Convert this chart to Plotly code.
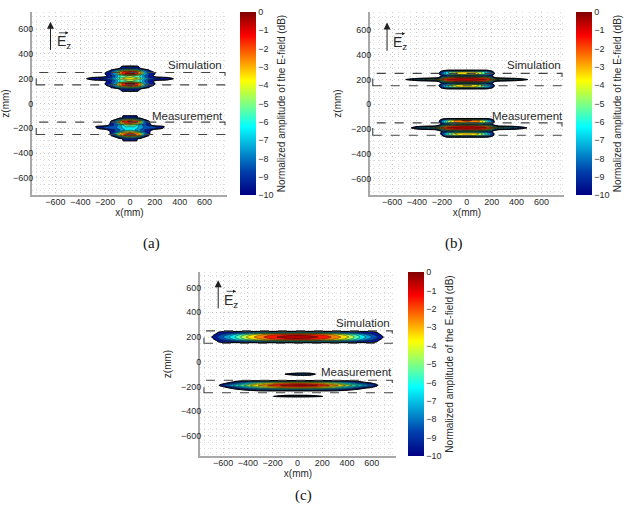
import plotly.graph_objects as go

# shared values
OFF = -20
TICK_VALS = [-600, -400, -200, 0, 200, 400, 600]
Z_TICK_VALS = [-600, -400, -200, 0, 200, 400, 600]
CBAR_TICKS = [0, -1, -2, -3, -4, -5, -6, -7, -8, -9, -10]
SIM_BOX = [150, 250]
MEAS_BOX = [-250, -150]

JET = [[0, "rgb(0,0,131)"], [0.125, "rgb(0,60,170)"], [0.375, "rgb(5,255,255)"],
       [0.625, "rgb(255,255,0)"], [0.875, "rgb(250,0,0)"], [1, "rgb(128,0,0)"]]
# same scale, but everything at or below -10 dB stays see-through
JET_CLEAR = [[0, "rgba(0,0,0,0)"], [0.0001, "rgb(0,0,131)"]] + JET[1:]

# panel (a)
XA = [-380, -300, -200, -160, -120, -80, -40, 0, 40, 80, 120, 160, 200, 300, 380]
ZA_SIM = [85, 100, 115, 130, 145, 160, 175, 187, 200, 213, 225, 240, 255, 270, 285, 300, 315]
A_SIM = [
    [OFF] * 15,
    [-20, -20, -20, -20, -16, -10.5, -9, -8.5, -9, -10.5, -16, -20, -20, -20, -20],
    [-20, -20, -20, -16, -12, -10, -9.5, -9.3, -9.5, -10, -12, -16, -20, -20, -20],
    [-20, -20, -13, -10.2, -8.5, -6.5, -5, -4.5, -5, -6.5, -8.5, -10.2, -13, -20, -20],
    [-20, -20, -10.2, -9.6, -7, -2.5, -1.5, -1, -1.5, -2.5, -7, -9.6, -10.2, -20, -20],
    [-20, -20, -9.9, -9.2, -7, -2.5, -1, -0.6, -1, -2.5, -7, -9.2, -9.9, -20, -20],
    [-20, -20, -10.3, -9.5, -8, -6, -5, -5, -5, -6, -8, -9.5, -10.3, -20, -20],
    [-12, -10.3, -9.9, -9.5, -8, -6, -5, -4.5, -5, -6, -8, -9.5, -9.9, -10.3, -12],
    [-10.5, -9.2, -8.8, -8.3, -7, -4.5, -3.5, -3, -3.5, -4.5, -7, -8.3, -8.8, -9.2, -10.5],
    [-12, -10.3, -9.9, -9.5, -8, -6, -5, -4.5, -5, -6, -8, -9.5, -9.9, -10.3, -12],
    [-20, -20, -10.3, -9.5, -8, -6, -5, -5, -5, -6, -8, -9.5, -10.3, -20, -20],
    [-20, -20, -9.9, -9.2, -7, -2.5, -1, -0.6, -1, -2.5, -7, -9.2, -9.9, -20, -20],
    [-20, -20, -10.2, -9.6, -7, -2.5, -1.5, -1, -1.5, -2.5, -7, -9.6, -10.2, -20, -20],
    [-20, -20, -13, -10.2, -8.5, -6.5, -5, -4.5, -5, -6.5, -8.5, -10.2, -13, -20, -20],
    [-20, -20, -20, -16, -12, -10, -9.5, -9.3, -9.5, -10, -12, -16, -20, -20, -20],
    [-20, -20, -20, -20, -16, -10.5, -9, -8.5, -9, -10.5, -16, -20, -20, -20, -20],
    [OFF] * 15,
]
ZA_MEAS = [-315, -300, -285, -270, -255, -240, -225, -213, -200, -187, -175, -160, -145, -130, -115, -100, -85]
A_MEAS = [
    [OFF] * 15,
    [-20, -20, -20, -20, -18, -11, -9.3, -9, -9.3, -11, -18, -20, -20, -20, -20],
    [-20, -20, -20, -20, -13, -10.5, -9.5, -9.3, -9.5, -10.5, -13, -20, -20, -20, -20],
    [-20, -20, -20, -12, -10, -7.5, -5.5, -5, -5.5, -7.5, -10, -12, -20, -20, -20],
    [-20, -20, -20, -10.2, -8, -3, -1.5, -1, -1.5, -3, -8, -10.2, -20, -20, -20],
    [-20, -20, -20, -10, -7.5, -3.5, -2.5, -2, -2.5, -3.5, -7.5, -10, -20, -20, -20],
    [-20, -20, -14, -10, -9, -7, -5, -4.5, -5, -7, -9, -10, -14, -20, -20],
    [-20, -20, -10.5, -9.5, -9, -8, -7, -6.5, -7, -8, -9, -9.5, -10.5, -20, -20],
    [-20, -10.6, -9, -8.6, -8.3, -7.5, -6.5, -6, -6.5, -7.5, -8.3, -8.6, -9, -10.6, -20],
    [-20, -10.4, -8.7, -8.5, -8.2, -7.5, -6, -6, -6, -7.5, -8.2, -8.5, -8.7, -10.4, -20],
    [-20, -20, -11, -9.5, -8.8, -7.5, -5.5, -5, -5.5, -7.5, -8.8, -9.5, -11, -20, -20],
    [-20, -20, -14, -10, -8.5, -4, -2.5, -2, -2.5, -4, -8.5, -10, -14, -20, -20],
    [-20, -20, -20, -10.2, -8, -2.5, -1.2, -0.8, -1.2, -2.5, -8, -10.2, -20, -20, -20],
    [-20, -20, -20, -12, -10, -7, -4, -3.5, -4, -7, -10, -12, -20, -20, -20],
    [-20, -20, -20, -20, -13, -10.5, -9.5, -9.2, -9.5, -10.5, -13, -20, -20, -20, -20],
    [-20, -20, -20, -20, -18, -11, -9.2, -9, -9.2, -11, -18, -20, -20, -20, -20],
    [OFF] * 15,
]

# panel (b)
XB = [-540, -480, -400, -320, -260, -230, -200, -160, -100, -40, 0, 40, 100, 160, 200, 230, 260, 320, 400, 480, 540]
ZB_SIM = [115, 125, 140, 155, 170, 185, 200, 215, 230, 245, 260, 275, 285]
B_SIM = [
    [OFF] * 21,
    [-20, -20, -20, -20, -20, -20, -10.8, -9.9, -9.5, -9.3, -9.3, -9.3, -9.5, -9.9, -10.8, -20, -20, -20, -20, -20, -20],
    [-20, -20, -20, -20, -20, -11, -8.8, -6.5, -4.5, -3.6, -3.5, -3.6, -4.5, -6.5, -8.8, -11, -20, -20, -20, -20, -20],
    [-20, -20, -20, -20, -20, -10.6, -8.5, -6.5, -4, -3.2, -3, -3.2, -4, -6.5, -8.5, -10.6, -20, -20, -20, -20, -20],
    [-20, -20, -20, -20, -20, -12, -9.8, -9, -8.5, -8, -8, -8, -8.5, -9, -9.8, -12, -20, -20, -20, -20, -20],
    [-20, -15, -12.5, -12, -11, -10, -6.5, -3, -2, -1.6, -1.5, -1.6, -2, -3, -6.5, -10, -11, -12, -12.5, -15, -20],
    [-13, -9.4, -6.5, -4.5, -4, -3.5, -1.8, -1, -0.5, -0.3, -0.3, -0.3, -0.5, -1, -1.8, -3.5, -4, -4.5, -6.5, -9.4, -13],
    [-20, -15, -12.5, -12, -11, -10, -6.5, -3, -2, -1.6, -1.5, -1.6, -2, -3, -6.5, -10, -11, -12, -12.5, -15, -20],
    [-20, -20, -20, -20, -20, -12, -9.8, -9, -8.5, -8, -8, -8, -8.5, -9, -9.8, -12, -20, -20, -20, -20, -20],
    [-20, -20, -20, -20, -20, -10.6, -8.5, -6.5, -4, -3.2, -3, -3.2, -4, -6.5, -8.5, -10.6, -20, -20, -20, -20, -20],
    [-20, -20, -20, -20, -20, -11, -8.8, -6.5, -4.5, -3.6, -3.5, -3.6, -4.5, -6.5, -8.8, -11, -20, -20, -20, -20, -20],
    [-20, -20, -20, -20, -20, -20, -10.8, -9.9, -9.5, -9.3, -9.3, -9.3, -9.5, -9.9, -10.8, -20, -20, -20, -20, -20, -20],
    [OFF] * 21,
]
ZB_MEAS = [-275, -265, -250, -235, -220, -205, -190, -175, -160, -145, -130, -115, -105]
B_MEAS = [
    [OFF] * 21,
    [-20, -20, -20, -20, -20, -20, -14, -9.9, -9.5, -9.4, -9.3, -9.4, -9.5, -9.9, -10.8, -20, -20, -20, -20, -20, -20],
    [-20, -20, -20, -20, -20, -14, -10, -6.5, -4.5, -3.6, -3.5, -3.6, -4.5, -6.5, -8.8, -11, -20, -20, -20, -20, -20],
    [-20, -20, -20, -20, -20, -12, -9, -6.5, -4, -3.2, -3, -3.2, -4, -6.5, -8.5, -11, -20, -20, -20, -20, -20],
    [-20, -20, -20, -20, -20, -12, -9.8, -9, -8, -7.5, -7.5, -7.5, -8, -9, -9.8, -12, -20, -20, -20, -20, -20],
    [-20, -20, -11, -10.5, -10.2, -9, -6, -3, -2, -1.6, -1.5, -1.6, -2, -3, -6, -9, -10.2, -10.5, -11, -14, -20],
    [-20, -11.5, -8, -5.5, -4, -3, -1.8, -1, -0.6, -0.3, -0.2, -0.3, -0.6, -1, -1.8, -3, -4, -5.5, -7.5, -9.8, -14],
    [-20, -20, -11, -10.5, -10.2, -9, -6, -3, -2, -1.6, -1.5, -1.6, -2, -3, -6, -9, -10.2, -10.5, -11, -14, -20],
    [-20, -20, -20, -20, -20, -12, -9.8, -8.5, -7.5, -7, -7, -7, -7.5, -8.5, -9.8, -12, -20, -20, -20, -20, -20],
    [-20, -20, -20, -20, -20, -11, -8, -5, -3, -2.5, -2.2, -2.5, -3, -5, -8, -11, -20, -20, -20, -20, -20],
    [-20, -20, -20, -20, -20, -11, -8.5, -6, -3, -2, -1.8, -2, -3, -6, -8.5, -11, -20, -20, -20, -20, -20],
    [-20, -20, -20, -20, -20, -20, -10.8, -9.9, -9.5, -9.3, -9.3, -9.3, -9.5, -9.9, -10.8, -20, -20, -20, -20, -20, -20],
    [OFF] * 21,
]

# panel (c)
XC = [-760, -700, -640, -560, -480, -400, -300, -200, -100, 0, 100, 200, 300, 400, 480, 560, 640, 700, 760]
ZC_SIM = [145, 155, 165, 175, 185, 200, 215, 225, 235, 245, 255]
C_SIM = [
    [OFF] * 19,
    [-20, -14, -10.2, -9.8, -9.5, -9.2, -9, -8.8, -8.6, -8.5, -8.6, -8.8, -9, -9.2, -9.5, -9.8, -10.2, -14, -20],
    [-20, -11, -9.9, -9.5, -8.8, -8, -7, -6.5, -6, -5.8, -6, -6.5, -7, -8, -8.8, -9.5, -9.9, -11, -20],
    [-20, -10.8, -9.6, -8.5, -7, -5.5, -4, -3, -2.5, -2.3, -2.5, -3, -4, -5.5, -7, -8.5, -9.6, -10.8, -20],
    [-19, -10.5, -9.2, -7.7, -6, -4.3, -2.9, -1.8, -1.2, -0.9, -1.2, -1.8, -2.9, -4.3, -6, -7.7, -9.2, -10.5, -19],
    [-18, -10.2, -8.8, -7.2, -5.4, -3.7, -2.3, -1.2, -0.6, -0.3, -0.6, -1.2, -2.3, -3.7, -5.4, -7.2, -8.8, -10.2, -18],
    [-19, -10.5, -9.2, -7.7, -6, -4.3, -2.9, -1.8, -1.2, -0.9, -1.2, -1.8, -2.9, -4.3, -6, -7.7, -9.2, -10.5, -19],
    [-20, -10.8, -9.6, -8.5, -7, -5.5, -4, -3, -2.5, -2.3, -2.5, -3, -4, -5.5, -7, -8.5, -9.6, -10.8, -20],
    [-20, -11, -9.9, -9.5, -8.8, -8, -7, -6.5, -6, -5.8, -6, -6.5, -7, -8, -8.8, -9.5, -9.9, -11, -20],
    [-20, -14, -10.2, -9.8, -9.5, -9.2, -9, -8.8, -8.6, -8.5, -8.6, -8.8, -9, -9.2, -9.5, -9.8, -10.2, -14, -20],
    [OFF] * 19,
]
ZC_MEAS = [-295, -280, -265, -245, -235, -225, -210, -190, -170, -155, -145, -115, -100, -85]
C_MEAS = [
    [OFF] * 19,
    [-20, -20, -20, -20, -20, -20, -20, -10.2, -7.5, -7, -7.5, -9.8, -20, -20, -20, -20, -20, -20, -20],
    [-20, -20, -20, -20, -20, -20, -20, -13, -12, -12, -12, -13, -20, -20, -20, -20, -20, -20, -20],
    [OFF] * 19,
    [-20, -20, -20, -20, -12, -10.5, -10, -9.8, -9.6, -9.5, -9.6, -9.8, -10, -10.5, -12, -20, -20, -20, -20],
    [-20, -20, -20, -13, -10.2, -9.4, -8.5, -7.8, -7.4, -7.2, -7.4, -7.8, -8.5, -9.4, -10.2, -13, -20, -20, -20],
    [-20, -20, -11, -10, -8.5, -7, -5, -3.8, -3, -2.7, -3, -3.6, -5, -7, -8.5, -9.6, -11, -20, -20],
    [-20, -20, -10.2, -8, -6, -4.3, -2.7, -1.5, -0.7, -0.3, -0.5, -1.3, -2.5, -4.2, -5.7, -7.5, -9.5, -13, -20],
    [-20, -20, -11, -10, -8.5, -7, -5, -3.8, -3, -2.7, -3, -3.6, -5, -7, -8.5, -9.6, -11, -20, -20],
    [-20, -20, -20, -13, -10.2, -9.4, -8.5, -7.8, -7.4, -7.2, -7.4, -7.8, -8.5, -9.4, -10.2, -13, -20, -20, -20],
    [OFF] * 19,
    [-20, -20, -20, -20, -20, -20, -20, -20, -12, -12, -12, -13, -20, -20, -20, -20, -20, -20, -20],
    [-20, -20, -20, -20, -20, -20, -20, -20, -9.8, -7, -7.6, -13, -20, -20, -20, -20, -20, -20, -20],
    [-20, -20, -20, -20, -20, -20, -20, -20, -12, -12, -12, -13, -20, -20, -20, -20, -20, -20, -20],
]

W, H = 630, 519

# pixel boxes of plot area, colour bar left edge, axis ranges, caption and label spots
panels = [
    dict(sfx="", px=(32, 227), py=(12, 195), cbar=240, xr=(-789, 781), yr=(-738, 738),
         sim=(A_SIM, XA, ZA_SIM), meas=(A_MEAS, XA, ZA_MEAS),
         cap="(a)", cap_xy=(141, 243), sim_lbl=(520, 310), meas_lbl=(466, -98)),
    dict(sfx="2", px=(370, 564), py=(12, 195), cbar=576, xr=(-777, 781), yr=(-732, 745),
         sim=(B_SIM, XB, ZB_SIM), meas=(B_MEAS, XB, ZB_MEAS),
         cap="(b)", cap_xy=(465, 243), sim_lbl=(540, 319), meas_lbl=(485, -92)),
    dict(sfx="3", px=(200, 396), py=(272, 456), cbar=408, xr=(-787, 795), yr=(-762, 726),
         sim=(C_SIM, XC, ZC_SIM), meas=(C_MEAS, XC, ZC_MEAS),
         cap="(c)", cap_xy=(303, 506), sim_lbl=(525, 314), meas_lbl=(475, -85)),
]

fig = go.Figure()
layout_axes = {}
shapes = []
annotations = []
text_font = dict(family="Liberation Sans, Arial, sans-serif", color="#2b2b2b")

for p in panels:
    xa, ya = "x" + p["sfx"], "y" + p["sfx"]
    for z, x, y in (p["sim"], p["meas"]):
        fig.add_trace(go.Contour(
            x=x, y=y, z=z, xaxis=xa, yaxis=ya, showscale=False, hoverinfo="skip",
            colorscale=JET_CLEAR, zmin=-10, zmax=0,
            contours=dict(start=-10, end=0, size=1, coloring="fill"),
            line=dict(color="#111111", width=0.45, smoothing=0.8),
        ))
        # heavier black edge at the -10 dB limit
        fig.add_trace(go.Contour(
            x=x, y=y, z=z, xaxis=xa, yaxis=ya, showscale=False, hoverinfo="skip",
            contours=dict(start=-10, end=-10, size=1, coloring="none"),
            line=dict(color="#000000", width=1.0, smoothing=0.8),
        ))
    # colour bar only, no visible marks
    fig.add_trace(go.Scatter(
        x=[None], y=[None], xaxis=xa, yaxis=ya, mode="markers", showlegend=False, hoverinfo="skip",
        marker=dict(color=[-10], cmin=-10, cmax=0, colorscale=JET, showscale=True, colorbar=dict(
            x=p["cbar"] / W, xanchor="left", xpad=0, ypad=0, thickness=16, thicknessmode="pixels",
            y=1 - (p["py"][0] + p["py"][1]) / 2 / H, yanchor="middle",
            len=(p["py"][1] - p["py"][0]) / H, lenmode="fraction",
            outlinewidth=0, tickvals=CBAR_TICKS, ticks="", ticklen=2,
            tickfont=dict(size=9, **text_font),
            title=dict(text="Normalized amplitude of the E-field (dB)", side="right",
                       font=dict(size=10, **text_font)),
        )),
    ))
    grid = dict(showgrid=True, gridcolor="#c8c8c8", griddash="1px,3px", gridwidth=1, zeroline=False,
                showline=True, linecolor="#a8a8a8", linewidth=2, ticks="",
                minor=dict(dtick=50, showgrid=True, gridcolor="#dcdcdc", griddash="1px,3px", gridwidth=1),
                tickfont=dict(size=9, **text_font))
    layout_axes["xaxis" + p["sfx"]] = dict(
        domain=[p["px"][0] / W, p["px"][1] / W], range=list(p["xr"]), anchor=ya, tickvals=TICK_VALS,
        ticklabelstandoff=-3,
        title=dict(text="x(mm)", font=dict(size=10, **text_font), standoff=3), **grid)
    layout_axes["yaxis" + p["sfx"]] = dict(
        domain=[1 - p["py"][1] / H, 1 - p["py"][0] / H], range=list(p["yr"]), anchor=xa, tickvals=Z_TICK_VALS,
        ticklabelstandoff=-5,
        title=dict(text="z(mm)", font=dict(size=10, **text_font), standoff=7), **grid)
    for box in (SIM_BOX, MEAS_BOX):
        shapes.append(dict(type="rect", xref=xa, yref=ya, x0=-755, x1=765, y0=box[0], y1=box[1],
                           line=dict(color="#444444", width=1.1, dash="dash")))
    annotations += [
        dict(x=p["sim_lbl"][0], y=p["sim_lbl"][1], xref=xa, yref=ya, text="Simulation", showarrow=False,
             font=dict(size=11.5, **text_font)),
        dict(x=p["meas_lbl"][0], y=p["meas_lbl"][1], xref=xa, yref=ya, text="Measurement", showarrow=False,
             font=dict(size=11.5, **text_font)),
        dict(x=-640, y=660, ax=-640, ay=420, xref=xa, yref=ya, axref=xa, ayref=ya, text="", showarrow=True,
             arrowhead=2, arrowsize=1.4, arrowwidth=1, arrowcolor="#222222"),
        dict(x=-495, y=570, ax=-585, ay=570, xref=xa, yref=ya, axref=xa, ayref=ya, text="", showarrow=True,
             arrowhead=2, arrowsize=0.8, arrowwidth=0.8, arrowcolor="#222222"),
        dict(x=-535, y=495, xref=xa, yref=ya, text="E<sub>z</sub>", showarrow=False,
             font=dict(size=14, **text_font)),
        dict(x=p["cap_xy"][0] / W, y=1 - p["cap_xy"][1] / H, xref="paper", yref="paper", text=p["cap"],
             showarrow=False, font=dict(size=15, family="Liberation Serif, Times New Roman, serif", color="#111111")),
    ]

fig.update_layout(
    width=W, height=H, autosize=False, margin=dict(l=0, r=0, t=0, b=0),
    paper_bgcolor="white", plot_bgcolor="white", showlegend=False,
    shapes=shapes, annotations=annotations, **layout_axes,
)

# the browser's default body margin would push the fixed-size figure 8px off
fig.write_html("out.html", config={"displayModeBar": False}, post_script="document.body.style.margin='0';")
